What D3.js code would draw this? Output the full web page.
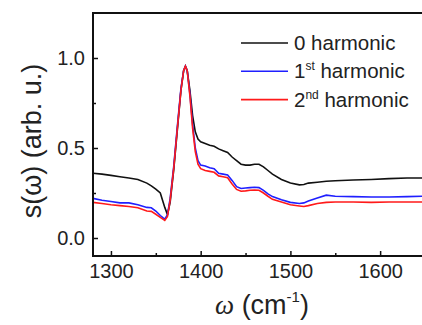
<html>
<head>
  <script src="https://d3js.org/d3.v7.min.js"></script>
  <style>
    body { margin: 0; background: #fff; }
    text { font-family: Arial, "Liberation Sans", sans-serif; fill: #222; }
  </style>
</head>
<body>
<svg id="chart" width="422" height="325"></svg>
<script>
// wavenumbers (cm^-1)
var wavenumbers = [1280, 1290, 1300, 1310, 1320, 1330, 1340, 1345, 1350, 1355, 1360, 1363, 1366, 1370, 1374, 1378, 1381, 1383, 1385, 1388, 1391, 1394, 1397, 1400, 1405, 1410, 1415, 1420, 1425, 1430, 1435, 1440, 1445, 1450, 1455, 1460, 1465, 1470, 1475, 1480, 1490, 1500, 1510, 1515, 1520, 1530, 1540, 1550, 1570, 1590, 1610, 1630, 1650]

var harm0 = [0.36, 0.355, 0.348, 0.34, 0.333, 0.325, 0.305, 0.29, 0.272, 0.25, 0.17, 0.13, 0.20, 0.38, 0.60, 0.82, 0.93, 0.955, 0.93, 0.82, 0.68, 0.59, 0.55, 0.535, 0.525, 0.515, 0.51, 0.495, 0.485, 0.475, 0.45, 0.43, 0.41, 0.405, 0.405, 0.41, 0.41, 0.395, 0.375, 0.355, 0.325, 0.305, 0.295, 0.297, 0.305, 0.31, 0.315, 0.318, 0.322, 0.325, 0.33, 0.333, 0.333]

var harm1 = [0.22, 0.21, 0.203, 0.195, 0.195, 0.185, 0.17, 0.168, 0.15, 0.125, 0.105, 0.13, 0.22, 0.40, 0.62, 0.83, 0.93, 0.955, 0.93, 0.80, 0.63, 0.50, 0.43, 0.405, 0.40, 0.39, 0.385, 0.36, 0.355, 0.35, 0.32, 0.285, 0.275, 0.278, 0.28, 0.282, 0.28, 0.265, 0.245, 0.23, 0.212, 0.198, 0.192, 0.195, 0.205, 0.222, 0.238, 0.232, 0.23, 0.228, 0.228, 0.23, 0.232]

var harm2 = [0.198, 0.192, 0.185, 0.18, 0.175, 0.168, 0.15, 0.148, 0.132, 0.115, 0.098, 0.12, 0.21, 0.39, 0.61, 0.82, 0.93, 0.955, 0.93, 0.79, 0.61, 0.48, 0.41, 0.385, 0.375, 0.37, 0.365, 0.345, 0.34, 0.335, 0.30, 0.27, 0.26, 0.262, 0.265, 0.267, 0.265, 0.25, 0.232, 0.215, 0.20, 0.185, 0.178, 0.175, 0.18, 0.192, 0.198, 0.20, 0.20, 0.198, 0.20, 0.20, 0.20]

var xTicks = [1300, 1400, 1500, 1600]
var xMinor = [1350, 1450, 1550]
var yTicks = [0.0, 0.5, 1.0]
var yMinor = [0.25, 0.75]

var series = [
  { name: '0', sup: '', values: harm0, color: '#111' },
  { name: '1', sup: 'st', values: harm1, color: '#1f1fff' },
  { name: '2', sup: 'nd', values: harm2, color: '#ff1a1a' }
]

var svg = d3.select('#chart')
var plot = { left: 93, right: 425, top: 13, bottom: 256 }

var x = d3.scaleLinear().domain([1280, 1650]).range([plot.left, plot.right])
var y = d3.scaleLinear().domain([-0.1, 1.25]).range([plot.bottom, plot.top])

// curves
var line = d3.line()
  .x(function (d, i) { return x(wavenumbers[i]) })
  .y(function (d) { return y(d) })

svg.append('g').selectAll('path')
  .data(series)
  .enter().append('path')
  .attr('d', function (s) { return line(s.values) })
  .attr('fill', 'none')
  .attr('stroke', function (s) { return s.color })
  .attr('stroke-width', 1.6)

// axes (ticks point inward)
svg.append('g').attr('transform', 'translate(0,' + plot.bottom + ')')
  .call(d3.axisBottom(x).tickValues(xTicks).tickSize(-5).tickPadding(8).tickFormat(d3.format('d')))
svg.append('g').attr('transform', 'translate(0,' + plot.bottom + ')')
  .call(d3.axisBottom(x).tickValues(xMinor).tickSize(-3).tickFormat(''))
svg.append('g').attr('transform', 'translate(' + plot.left + ',0)')
  .call(d3.axisLeft(y).tickValues(yTicks).tickSize(-5).tickPadding(8).tickFormat(d3.format('.1f')))
svg.append('g').attr('transform', 'translate(' + plot.left + ',0)')
  .call(d3.axisLeft(y).tickValues(yMinor).tickSize(-3).tickFormat(''))

svg.selectAll('.domain').remove()
svg.selectAll('.tick line').attr('stroke', '#111').attr('stroke-width', 1.5)
svg.selectAll('.tick text').style('font-size', '20px').attr('fill', '#222')

// frame
svg.append('rect')
  .attr('x', plot.left).attr('y', plot.top)
  .attr('width', plot.right - plot.left).attr('height', plot.bottom - plot.top)
  .attr('fill', 'none').attr('stroke', '#111').attr('stroke-width', 2)

// legend
var legend = svg.append('g')
series.forEach(function (s, i) {
  var ly = 43 + i * 28.3
  legend.append('line')
    .attr('x1', 241).attr('x2', 288).attr('y1', ly).attr('y2', ly)
    .attr('stroke', s.color).attr('stroke-width', 1.6)
  var t = legend.append('text').attr('x', 294).attr('y', ly + 7).style('font-size', '20.5px')
  t.append('tspan').text(s.name)
  if (s.sup) {
    t.append('tspan').attr('dy', -8).style('font-size', '12px').text(s.sup)
    t.append('tspan').attr('dy', 8).text(' harmonic')
  } else {
    t.append('tspan').text(' harmonic')
  }
})

// y axis title
svg.append('text')
  .attr('transform', 'translate(41,141) rotate(-90)')
  .attr('text-anchor', 'middle')
  .style('font-size', '27px')
  .text('s(\u03c9) (arb. u.)')

// x axis title
var xt = svg.append('text')
  .attr('x', 262).attr('y', 314)
  .attr('text-anchor', 'middle')
  .style('font-size', '27px')
xt.append('tspan').style('font-family', '"Liberation Serif", "DejaVu Serif", serif').style('font-style', 'italic').text('\u03c9')
xt.append('tspan').text(' (cm')
xt.append('tspan').attr('dy', -12).style('font-size', '15px').text('-1')
xt.append('tspan').attr('dy', 12).text(')')
</script>
</body>
</html>
